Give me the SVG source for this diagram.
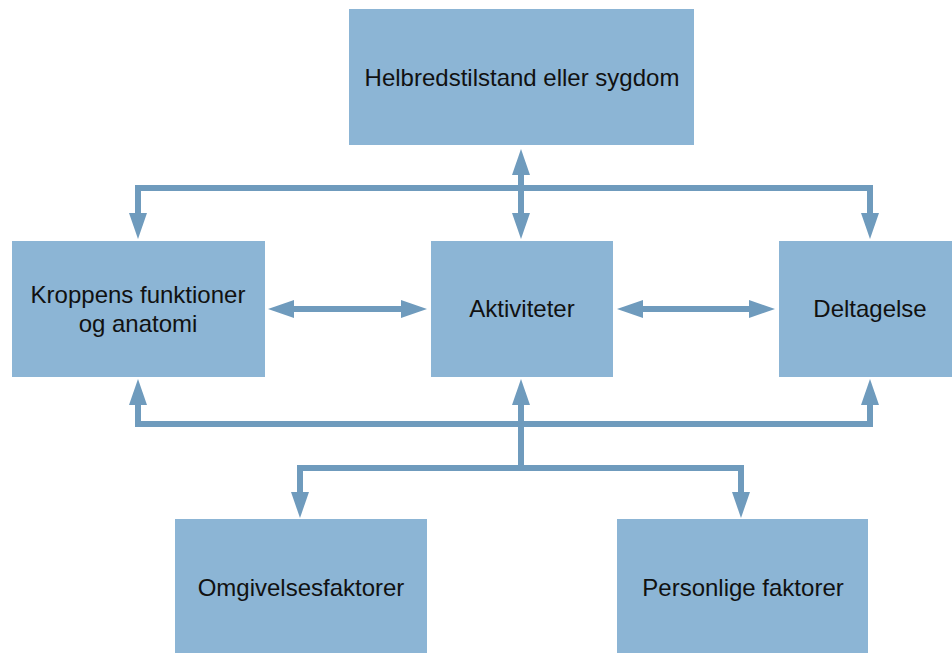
<svg xmlns="http://www.w3.org/2000/svg" width="952" height="653" viewBox="0 0 952 653">
<style>
.box{fill:#8cb5d5}
.t{font-family:"Liberation Sans",Arial,sans-serif;font-size:24px;fill:#111;text-anchor:middle}
.c{fill:none;stroke:#6f9bbd;stroke-width:6;stroke-linejoin:miter}
</style>
<defs>
<marker id="ah" markerUnits="userSpaceOnUse" markerWidth="27" markerHeight="19" refX="1" refY="9" orient="auto-start-reverse">
<path d="M0,0 L26,9 L0,18 z" fill="#6f9bbd"/>
</marker>
</defs>
<rect width="952" height="653" fill="#fff"/>
<g id="connectors">
<polyline class="c" points="138,214 138,188 870,188 870,214" marker-start="url(#ah)" marker-end="url(#ah)"/>
<line class="c" x1="521" y1="174" x2="521" y2="214" marker-start="url(#ah)" marker-end="url(#ah)"/>
<polyline class="c" points="138,404 138,424 870,424 870,404" marker-start="url(#ah)" marker-end="url(#ah)"/>
<line class="c" x1="521" y1="468" x2="521" y2="404" marker-end="url(#ah)"/>
<polyline class="c" points="300,493 300,468 741,468 741,493" marker-start="url(#ah)" marker-end="url(#ah)"/>
<line class="c" x1="293" y1="309" x2="402" y2="309" marker-start="url(#ah)" marker-end="url(#ah)"/>
<line class="c" x1="642" y1="309" x2="750" y2="309" marker-start="url(#ah)" marker-end="url(#ah)"/>
</g>
<g id="helbred"><rect class="box" x="349" y="9" width="345" height="136"/><text class="t" x="522" y="86">Helbredstilstand eller sygdom</text></g>
<g id="kroppens"><rect class="box" x="12" y="241" width="253" height="136"/><text class="t" x="138" y="303">Kroppens funktioner</text><text class="t" x="138" y="332">og anatomi</text></g>
<g id="aktiviteter"><rect class="box" x="431" y="241" width="182" height="136"/><text class="t" x="522" y="317">Aktiviteter</text></g>
<g id="deltagelse"><rect class="box" x="779" y="241" width="173" height="136"/><text class="t" x="870" y="317">Deltagelse</text></g>
<g id="omgivelse"><rect class="box" x="175" y="519" width="252" height="134"/><text class="t" x="301" y="596">Omgivelsesfaktorer</text></g>
<g id="personlige"><rect class="box" x="617" y="519" width="251" height="134"/><text class="t" x="743" y="596">Personlige faktorer</text></g>
</svg>
